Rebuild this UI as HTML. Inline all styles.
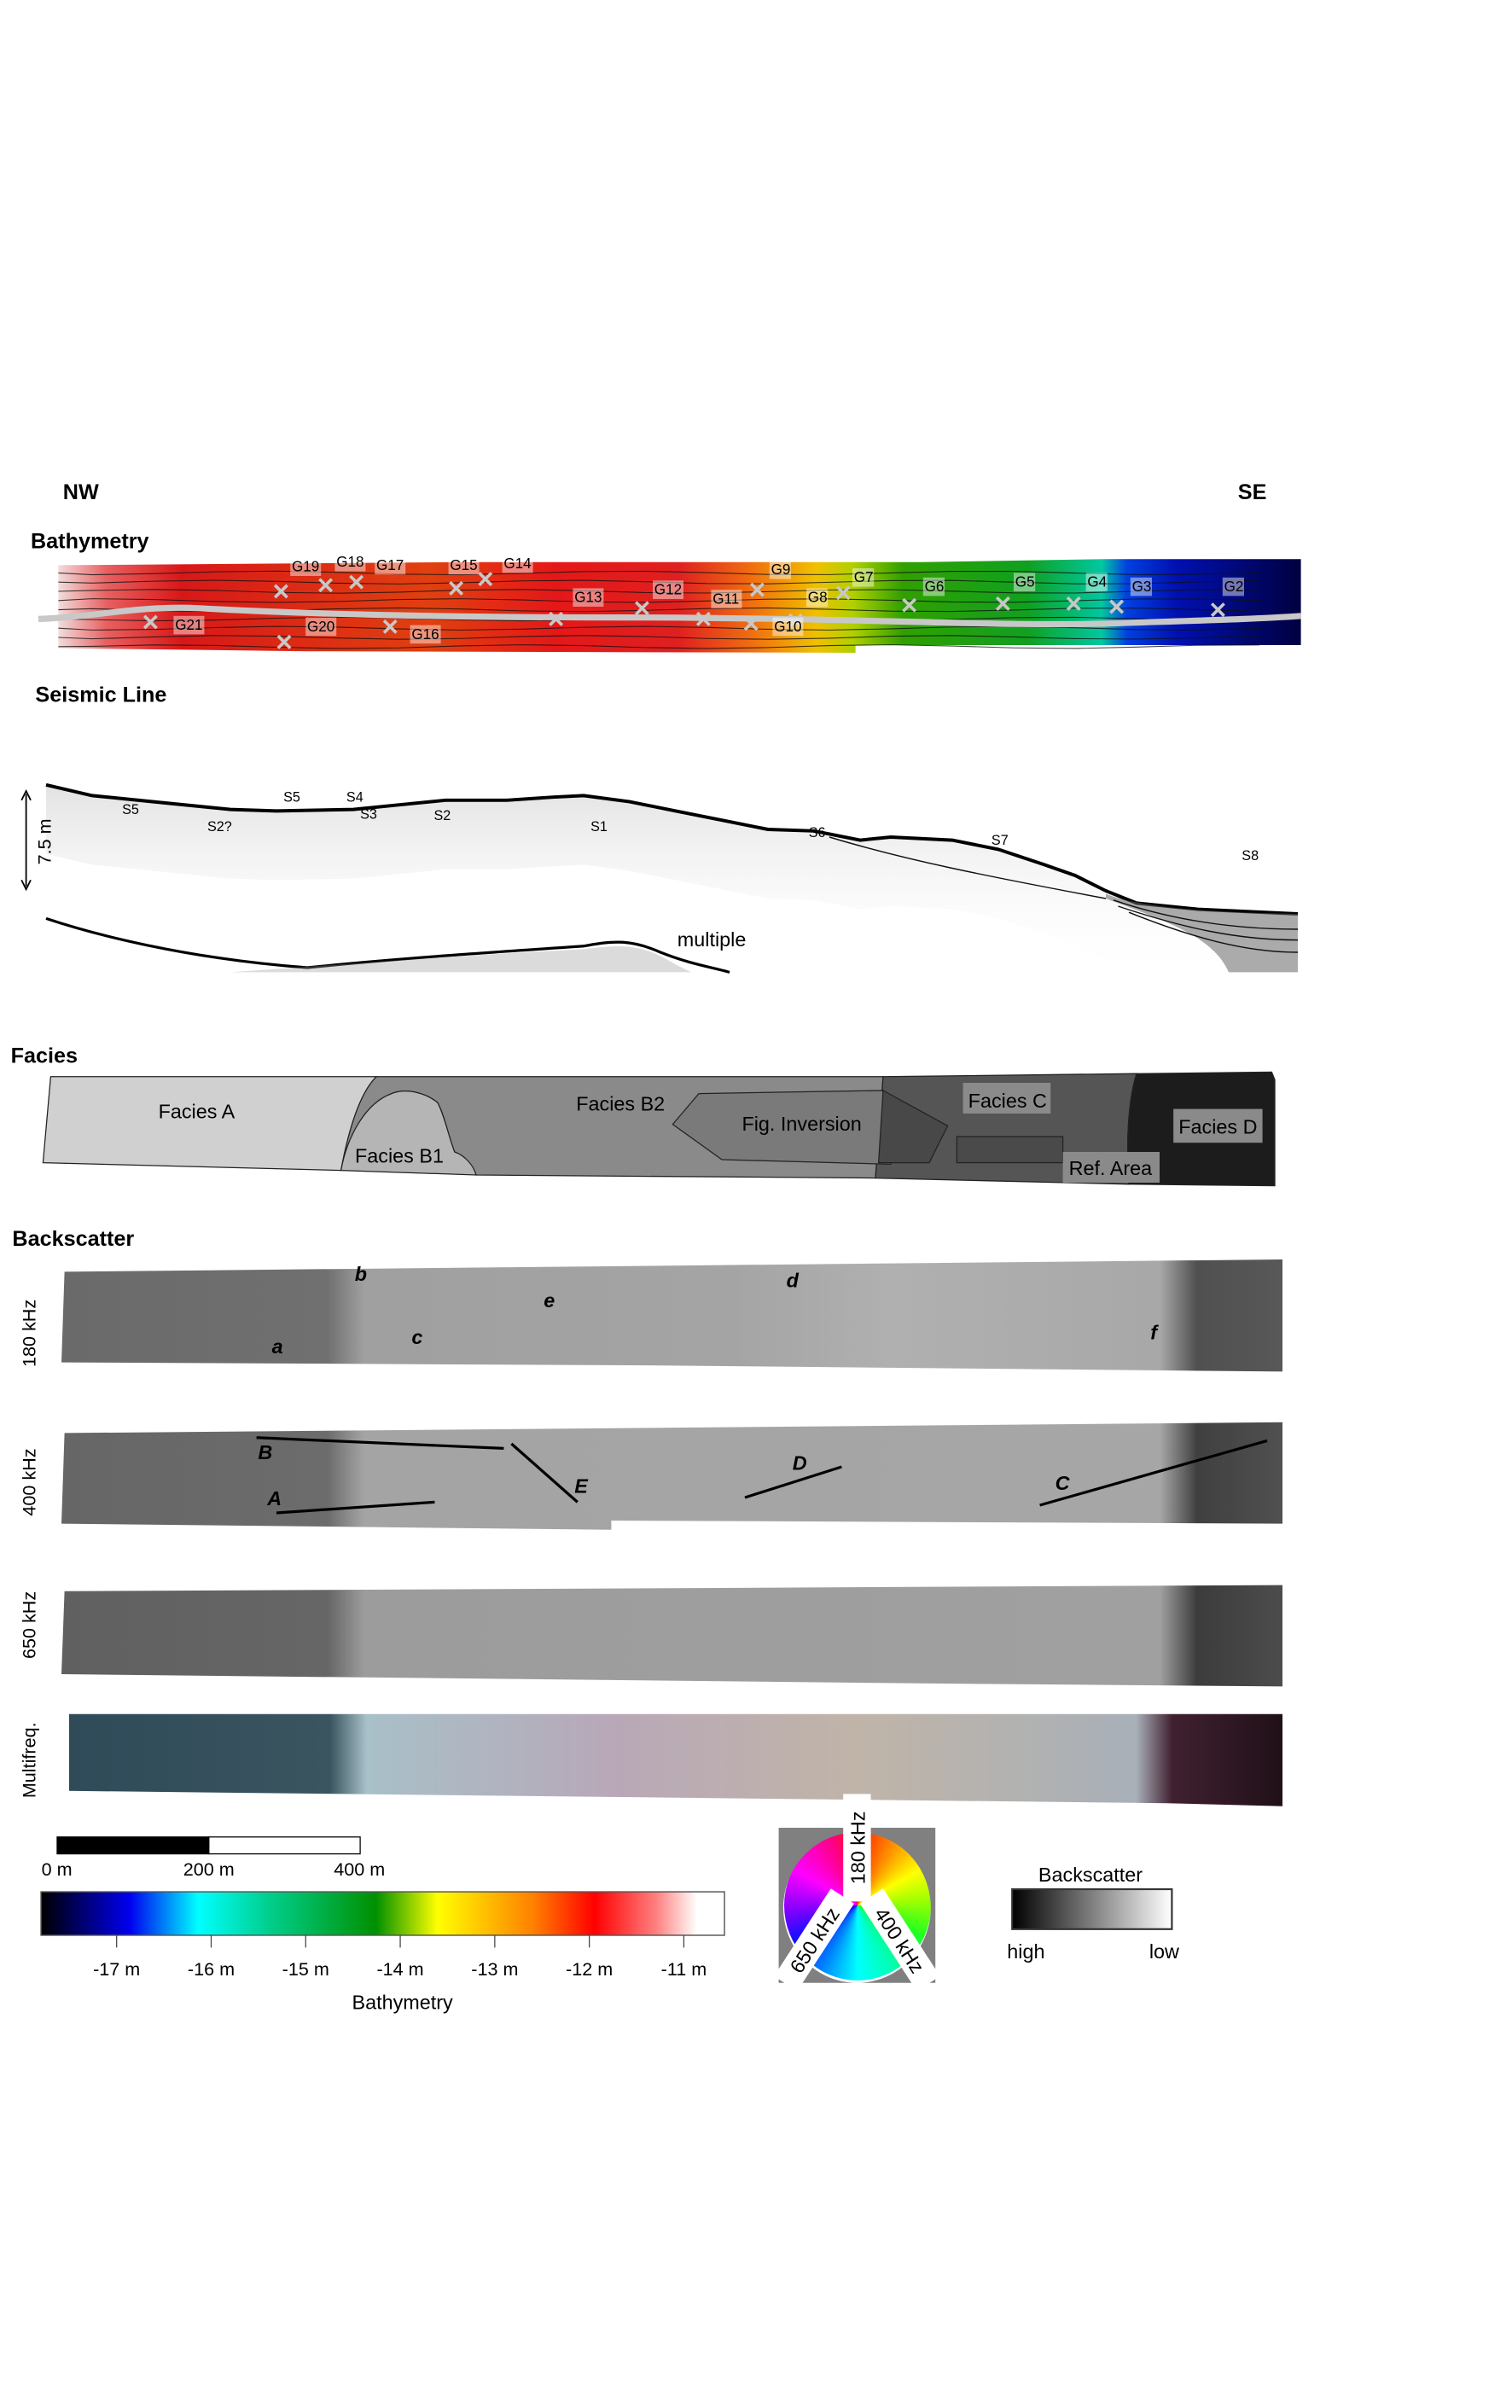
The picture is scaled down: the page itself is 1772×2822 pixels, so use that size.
<!DOCTYPE html>
<html><head><meta charset="utf-8">
<style>
html,body{margin:0;padding:0;background:#fff;}
#wrap{position:relative;width:1772px;height:2822px;overflow:hidden;font-family:"Liberation Sans",sans-serif;}
#wheel{position:absolute;left:919px;top:2145px;width:172px;height:176px;border-radius:50%;
background:conic-gradient(from 0deg,#ff2000,#ffa000 35deg,#ffff00 60deg,#a0ff00 85deg,#20ff20 115deg,#00ffb0 150deg,#00ffff 180deg,#0080ff 210deg,#1010ff 240deg,#8000ff 265deg,#ff00ff 300deg,#ff0080 340deg,#ff2000);}
svg{position:absolute;left:0;top:0;}
text{font-family:"Liberation Sans",sans-serif;}
</style></head>
<body>
<div id="wrap">
<div id="wheel"></div>
<svg id="fig" width="1772" height="2822" viewBox="0 0 984.44 1567.78">
<defs>
<linearGradient id="bathyGrad" x1="37" x2="847" gradientUnits="userSpaceOnUse">
<stop offset="0" stop-color="#f2e0e0"/><stop offset="0.04" stop-color="#e86060"/><stop offset="0.1" stop-color="#d81818"/>
<stop offset="0.3" stop-color="#e04010"/><stop offset="0.4" stop-color="#e41818"/><stop offset="0.5" stop-color="#e02020"/>
<stop offset="0.56" stop-color="#f07010"/><stop offset="0.61" stop-color="#f0c000"/><stop offset="0.64" stop-color="#b0d000"/>
<stop offset="0.68" stop-color="#30a000"/><stop offset="0.78" stop-color="#10a020"/><stop offset="0.84" stop-color="#00c8a0"/>
<stop offset="0.86" stop-color="#0040e0"/><stop offset="0.9" stop-color="#0010b0"/><stop offset="1" stop-color="#000040"/>
</linearGradient>
<linearGradient id="cbGrad" x1="0" x2="1">
<stop offset="0" stop-color="#000"/><stop offset="0.13" stop-color="#0000f0"/><stop offset="0.23" stop-color="#00ffff"/>
<stop offset="0.33" stop-color="#00d090"/><stop offset="0.49" stop-color="#009000"/><stop offset="0.58" stop-color="#ffff00"/>
<stop offset="0.72" stop-color="#ff8000"/><stop offset="0.81" stop-color="#ff0000"/><stop offset="0.9" stop-color="#ff8080"/><stop offset="0.96" stop-color="#fff"/><stop offset="1" stop-color="#fff"/>
</linearGradient>
<linearGradient id="bsGrad" x1="0" x2="1"><stop offset="0" stop-color="#000"/><stop offset="1" stop-color="#fff"/></linearGradient>
<linearGradient id="g180" x1="38" x2="835" gradientUnits="userSpaceOnUse">
<stop offset="0" stop-color="#6a6a6a"/><stop offset="0.22" stop-color="#707070"/><stop offset="0.25" stop-color="#a0a0a0"/>
<stop offset="0.55" stop-color="#a4a4a4"/><stop offset="0.68" stop-color="#b0b0b0"/><stop offset="0.9" stop-color="#a8a8a8"/>
<stop offset="0.93" stop-color="#505050"/><stop offset="1" stop-color="#585858"/></linearGradient>
<linearGradient id="g400" x1="38" x2="835" gradientUnits="userSpaceOnUse">
<stop offset="0" stop-color="#666"/><stop offset="0.22" stop-color="#6c6c6c"/><stop offset="0.25" stop-color="#a4a4a4"/>
<stop offset="0.9" stop-color="#a6a6a6"/><stop offset="0.93" stop-color="#404040"/><stop offset="1" stop-color="#505050"/></linearGradient>
<linearGradient id="g650" x1="38" x2="835" gradientUnits="userSpaceOnUse">
<stop offset="0" stop-color="#606060"/><stop offset="0.22" stop-color="#666"/><stop offset="0.25" stop-color="#9c9c9c"/>
<stop offset="0.9" stop-color="#a0a0a0"/><stop offset="0.93" stop-color="#3c3c3c"/><stop offset="1" stop-color="#4c4c4c"/></linearGradient>
<linearGradient id="gmf" x1="40" x2="835" gradientUnits="userSpaceOnUse">
<stop offset="0" stop-color="#2f4a58"/><stop offset="0.22" stop-color="#3a5560"/><stop offset="0.25" stop-color="#a8c0c8"/>
<stop offset="0.45" stop-color="#b8a8b8"/><stop offset="0.65" stop-color="#c0b4a8"/><stop offset="0.88" stop-color="#a8b0b8"/>
<stop offset="0.91" stop-color="#402030"/><stop offset="1" stop-color="#201018"/></linearGradient>
<linearGradient id="seisFade" x1="0" y1="0" x2="0" y2="1"><stop offset="0" stop-color="#999" stop-opacity="0.28"/><stop offset="1" stop-color="#fff" stop-opacity="0"/></linearGradient>
</defs>

<text x="41" y="325" font-size="14" font-weight="bold">NW</text>
<text x="806" y="325" font-size="14" font-weight="bold">SE</text>

<text x="20" y="357" font-size="14" font-weight="bold">Bathymetry</text>
<g>
<path d="M38,368 L300,366 L600,366 L720,364 L847,364 L847,420 L557,420 L557,425 L200,424 L38,422 Z" fill="url(#bathyGrad)"/>
<g id="swathLines" stroke="#111" stroke-width="0.6" fill="none" opacity="0.8"></g>
<path d="M25,403 C60,402 90,394 130,396 C200,400 300,402 400,402 C550,402 650,408 720,406 C780,404 820,403 847,401" stroke="#c8c8c8" stroke-width="4" fill="none"/>
<g id="samples"></g>
</g>

<text x="23" y="457" font-size="14" font-weight="bold">Seismic Line</text>
<g>
<path id="subsurf" fill="url(#seisFade)" stroke="none"/>
<path id="seabed" fill="none" stroke="#000" stroke-width="2.2"/>
<path d="M720,582 C740,590 780,594 845,595 L845,633 L800,633 C790,610 760,600 720,585 Z" fill="#666" opacity="0.55"/>
<g stroke="#111" stroke-width="0.8" fill="none">
<path d="M725,586 C760,598 800,605 845,605"/><path d="M728,590 C770,604 805,612 845,612"/><path d="M735,594 C775,610 810,620 845,620"/>
<path d="M540,545 C590,560 640,570 720,585"/></g>
<path d="M30,598 C60,608 120,624 200,630 C260,624 320,620 380,616 C400,612 412,612 430,620 C450,628 465,630 475,633" fill="none" stroke="#000" stroke-width="1.8"/>
<path d="M150,633 C220,628 300,622 380,618 C410,614 420,616 440,628 L450,633 Z" fill="#999" opacity="0.35"/>
<line x1="17" y1="517" x2="17" y2="577" stroke="#000" stroke-width="1"/>
<path d="M14,521 L17,515 L20,521 M14,573 L17,579 L20,573" stroke="#000" fill="none" stroke-width="1"/>
<text transform="translate(33,548) rotate(-90)" font-size="12" text-anchor="middle">7.5 m</text>
<g id="seisLabels" font-size="9"></g>
<text x="441" y="616" font-size="13">multiple</text>
</g>

<text x="7" y="692" font-size="14" font-weight="bold">Facies</text>
<g stroke="#222" stroke-width="0.7">
<path d="M33,701 L245,701 C236,710 228,730 222,762 L28,757 Z" fill="#d0d0d0"/>
<path d="M245,701 L575,701 L570,767 L310,765 C305,755 300,752 296,750 C292,740 290,728 285,718 C278,712 265,708 255,712 C240,720 228,740 222,762 C228,730 236,710 245,701 Z" fill="#8a8a8a"/>
<path d="M222,762 C226,740 238,718 255,712 C265,708 278,712 285,718 C290,728 292,740 296,750 C302,752 308,758 310,765 Z" fill="#b5b5b5"/>
<path d="M575,701 L740,699 C735,715 733,740 735,771 L570,767 Z" fill="#555"/>
<path d="M740,699 L828,698 L830,703 L830,772 L735,771 C733,740 735,715 740,699 Z" fill="#1c1c1c"/>
<path d="M455,712 L575,710 L580,758 L470,755 L438,732 Z" fill="#7a7a7a"/>
<path d="M575,710 L617,733 L605,757 L572,757 Z" fill="#484848"/>
<rect x="623" y="740" width="69" height="17" fill="#4a4a4a"/>
</g>
<g font-size="13">
<text x="128" y="728" text-anchor="middle">Facies A</text>
<text x="260" y="757" text-anchor="middle">Facies B1</text>
<text x="404" y="723" text-anchor="middle">Facies B2</text>
<text x="522" y="736" text-anchor="middle">Fig. Inversion</text>
<rect x="627" y="705" width="57" height="20" fill="#8a8a8a"/><text x="656" y="721" text-anchor="middle">Facies C</text>
<rect x="764" y="722" width="58" height="22" fill="#8a8a8a"/><text x="793" y="738" text-anchor="middle">Facies D</text>
<rect x="692" y="750" width="63" height="20" fill="#8a8a8a"/><text x="723" y="765" text-anchor="middle">Ref. Area</text>
</g>

<text x="8" y="811" font-size="14" font-weight="bold">Backscatter</text>
<path d="M42,828 L835,820 L835,893 L430,889 L40,887 Z" fill="url(#g180)"/>
<path d="M42,933 L835,926 L835,992 L398,990 L398,996 L40,992 Z" fill="url(#g400)"/>
<path d="M42,1036 L835,1032 L835,1098 L600,1096 L40,1090 Z" fill="url(#g650)"/>
<path d="M45,1116 L835,1116 L835,1176 L760,1174 L45,1166 Z" fill="url(#gmf)"/>
<g font-size="12">
<text transform="translate(23,868) rotate(-90)" text-anchor="middle">180 kHz</text>
<text transform="translate(23,965) rotate(-90)" text-anchor="middle">400 kHz</text>
<text transform="translate(23,1058) rotate(-90)" text-anchor="middle">650 kHz</text>
<text transform="translate(23,1146) rotate(-90)" text-anchor="middle">Multifreq.</text>
</g>
<g font-size="13" font-weight="bold" font-style="italic">
<text x="231" y="834">b</text><text x="177" y="881">a</text><text x="268" y="875">c</text><text x="354" y="851">e</text><text x="512" y="838">d</text><text x="749" y="872">f</text>
<text x="168" y="950">B</text><text x="174" y="980">A</text><text x="374" y="972">E</text><text x="516" y="957">D</text><text x="687" y="970">C</text>
</g>
<g stroke="#000" stroke-width="1.8">
<line x1="167" y1="936" x2="328" y2="943"/><line x1="180" y1="985" x2="283" y2="978"/><line x1="333" y1="940" x2="376" y2="978"/>
<line x1="485" y1="975" x2="548" y2="955"/><line x1="677" y1="980" x2="825" y2="938"/>
</g>

<g>
<rect x="37.2" y="1196" width="98.8" height="11" fill="#000" stroke="#000" stroke-width="0.7"/>
<rect x="136" y="1196" width="98.5" height="11" fill="#fff" stroke="#000" stroke-width="0.7"/>
<text x="37" y="1221" font-size="12" text-anchor="middle">0 m</text>
<text x="136" y="1221" font-size="12" text-anchor="middle">200 m</text>
<text x="234" y="1221" font-size="12" text-anchor="middle">400 m</text>
</g>

<g id="colorbar">
<rect x="26.7" y="1231.7" width="445" height="28.3" fill="url(#cbGrad)" stroke="#555" stroke-width="0.8"/>
</g>
<text x="262" y="1308" font-size="13" text-anchor="middle">Bathymetry</text>

<g>
<path d="M507,1190 L609,1190 L609,1291 L507,1291 Z M558,1193 a48,49 0 1,0 0.01,0 Z" fill="#808080" fill-rule="evenodd"/>
<rect x="549" y="1168" width="18" height="70" fill="#fff"/>
<text transform="translate(563,1203) rotate(-90)" font-size="13" text-anchor="middle">180 kHz</text>
<g transform="translate(530,1263) rotate(-57)"><rect x="-34" y="-9" width="68" height="18" fill="#fff"/><text x="0" y="5" font-size="13" text-anchor="middle">650 kHz</text></g>
<g transform="translate(586,1263) rotate(57)"><rect x="-34" y="-9" width="68" height="18" fill="#fff"/><text x="0" y="5" font-size="13" text-anchor="middle">400 kHz</text></g>
</g>

<g>
<text x="710" y="1225" font-size="13" text-anchor="middle">Backscatter</text>
<rect x="659" y="1230" width="104" height="26" fill="url(#bsGrad)" stroke="#333" stroke-width="1.2"/>
<text x="668" y="1275" font-size="13" text-anchor="middle">high</text>
<text x="758" y="1275" font-size="13" text-anchor="middle">low</text>
</g>
</svg>
</div>
<script>
var NS='http://www.w3.org/2000/svg';
var cbTicks=[-17,-16,-15,-14,-13,-12,-11];
var cbTickLabels=['-17 m','-16 m','-15 m','-14 m','-13 m','-12 m','-11 m'];
var cbMin=-17.8, cbMax=-10.57;
var sampleNames=['G19','G18','G17','G15','G14','G13','G12','G11','G9','G8','G7','G6','G5','G4','G3','G2','G21','G20','G16','G10'];
var sampleX=[183,212,232,297,316,362,418,458,493,518,549,592,653,699,727,793,98,185,254,489];
var sampleY=[385,381,379,383,377,403,396,403,384,404,386,394,393,393,395,397,405,418,408,406];
var labelDX=[7,7,13,-4,12,12,8,6,9,8,7,10,8,9,10,4,16,15,14,15];
var labelDY=[-13,-12,-8,-12,-7,-11,-9,-10,-10,-12,-7,-9,-11,-11,-10,-12,5,-7,8,5];
var seabedX=[30,60,100,150,180,230,260,290,330,360,380,410,440,470,500,530,560,580,620,650,680,700,720,740,780,845];
var seabedY=[511,518,522,527,528,527,524,521,521,519,518,522,528,534,540,541,547,545,547,553,563,570,580,588,592,595];
var seisNames=['S5','S2?','S5','S4','S3','S2','S1','S6','S7','S8'];
var seisLX=[85,143,190,231,240,288,390,532,651,814];
var seisLY=[530,541,522,522,533,534,541,545,550,560];

function cbx(v){return 26.7+(v-cbMin)/(cbMax-cbMin)*445;}
var cb=document.getElementById('colorbar');
cbTicks.forEach(function(t,i){
  var l=document.createElementNS(NS,'line');
  
  
  l.setAttribute('x1',cbx(t));l.setAttribute('x2',cbx(t));l.setAttribute('y1',1260);l.setAttribute('y2',1268);
  l.setAttribute('stroke','#444');l.setAttribute('stroke-width','0.7');cb.appendChild(l);
  var tx=document.createElementNS(NS,'text');
  
  
  tx.setAttribute('x',cbx(t));tx.setAttribute('y',1286);tx.setAttribute('font-size','12');tx.setAttribute('text-anchor','middle');
  tx.textContent=cbTickLabels[i];cb.appendChild(tx);
});
var sw=document.getElementById('swathLines');
for(var k=0;k<9;k++){
  var y0=373+k*6, d='M38,'+y0;
  for(var x=60;x<=847;x+=40){d+=' L'+x+','+(y0+Math.sin(x/37+k)*1.2).toFixed(1);}
  var p=document.createElementNS(NS,'path');p.setAttribute('d',d);sw.appendChild(p);
}
var sg=document.getElementById('samples');
sampleNames.forEach(function(n,i){
  var x=sampleX[i],y=sampleY[i];
  var tx=x+labelDX[i],ty=y+labelDY[i];
  var r=document.createElementNS(NS,'rect');
  r.setAttribute('x',tx-1);r.setAttribute('y',ty-9);r.setAttribute('width',n.length*6+2);r.setAttribute('height',12);
  r.setAttribute('fill','#fff');r.setAttribute('opacity','0.45');sg.appendChild(r);
  var t=document.createElementNS(NS,'text');
  
  
  t.setAttribute('x',tx);t.setAttribute('y',ty);t.setAttribute('font-size','9.5');t.textContent=n;sg.appendChild(t);
  var m=document.createElementNS(NS,'path');
  
  
  m.setAttribute('d','M'+(x-4)+','+(y-4)+' L'+(x+4)+','+(y+4)+' M'+(x+4)+','+(y-4)+' L'+(x-4)+','+(y+4));
  m.setAttribute('stroke','#c8c8c8');m.setAttribute('stroke-width','2');sg.appendChild(m);
});
var d='M'+seabedX[0]+','+seabedY[0];
for(var i=1;i<seabedX.length;i++){d+=' L'+seabedX[i]+','+seabedY[i];}
document.getElementById('seabed').setAttribute('d',d);
var d2=d+' L845,'+(seabedY[seabedY.length-1]+10);
for(var i=seabedX.length-1;i>=0;i--){d2+=' L'+seabedX[i]+','+(seabedY[i]+45);}
document.getElementById('subsurf').setAttribute('d',d2+' Z');
var sl=document.getElementById('seisLabels');
seisNames.forEach(function(n,i){
  var t=document.createElementNS(NS,'text');
  
  
  t.setAttribute('x',seisLX[i]);t.setAttribute('y',seisLY[i]);t.setAttribute('text-anchor','middle');t.textContent=n;sl.appendChild(t);
});
</script>
</body></html>
